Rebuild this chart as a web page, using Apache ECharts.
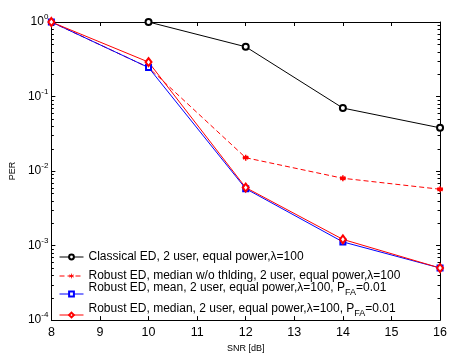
<!DOCTYPE html>
<html><head><meta charset="utf-8">
<script src="https://cdn.jsdelivr.net/npm/echarts@6/dist/echarts.min.js"></script>
<style>html,body{margin:0;padding:0;background:#fff}#c{width:450px;height:358px}</style>
</head><body><div id="c"></div>
<script>
// ---- data ----
const snr = [8, 10, 12, 14, 16];
const snrClassical = [10, 12, 14, 16];
const perClassical = [1.0, 0.465, 0.070, 0.038];
const perMedianNoThr = [1.0, 0.245, 0.0151, 0.0080, 0.0057];
const perMean = [1.0, 0.245, 0.0058, 0.00112, 0.00050];
const perMedian = [1.0, 0.29, 0.0060, 0.00121, 0.00050];
const seriesNames = [
  'Classical ED, 2 user, equal power,λ=100',
  'Robust ED, median w/o thlding, 2 user, equal power,λ=100',
  'Robust ED, mean, 2 user, equal power,λ=100, P_FA=0.01',
  'Robust ED, median, 2 user, equal power,λ=100, P_FA=0.01'
];
const xMin = 8, xMax = 16, xStep = 1;
const yMin = 1e-4, yMax = 1;
const minorMultipliers = [2, 3, 4, 5, 6, 7, 8, 9];
const decades = [1e-4, 1e-3, 1e-2, 1e-1];

const FONT = '"Liberation Sans", Arial, Helvetica, sans-serif';
const LFS = 12;
const minorTickValues = [];
decades.forEach(d => minorMultipliers.forEach(m => minorTickValues.push([xMin, m * d])));

const zip = (xs, ys) => xs.map((x, i) => [x, ys[i]]);
const asterisk = 'path://M0,-10L0,10M-8.66,-5L8.66,5M-8.66,5L8.66,-5M-10,0L10,0';

const chart = echarts.init(document.getElementById('c'), null, {renderer: 'canvas'});

function legendFmt(name) {
  if (name.indexOf('P_FA') >= 0) {
    const parts = name.split('P_FA');
    return '{a|' + parts[0] + 'P}{s|FA}{a|' + parts[1] + '}';
  }
  return name;
}
const legendRich = {
  a: {fontSize: LFS, fontFamily: FONT, color: '#000'},
  s: {fontSize: 9, padding: [9, 0, 0, 0], fontFamily: FONT, color: '#000'}
};
const legendTops = [251, 270, 282, 303];
const legends = seriesNames.map((n, i) => ({
  data: [n],
  left: 59,
  top: legendTops[i],
  padding: 0,
  itemWidth: 24,
  itemHeight: 6,
  itemGap: 0,
  selectedMode: false,
  formatter: legendFmt,
  lineStyle: {width: 1},
  itemStyle: {borderWidth: 0.8},
  textStyle: {fontSize: LFS, fontFamily: FONT, color: '#000', rich: legendRich,
    padding: n.indexOf('P_FA') >= 0 ? [0, 0, 12, 0] : 0}
}));

const axisCommon = {
  axisLine: {show: true, lineStyle: {color: '#000', width: 1}},
  splitLine: {show: false}
};

const option = {
  animation: false,
  backgroundColor: '#fff',
  textStyle: {fontFamily: FONT},
  grid: {left: 51, right: 9, top: 22, bottom: 28},
  legend: legends,
  xAxis: [
    Object.assign({
      type: 'value', min: xMin, max: xMax, interval: xStep, position: 'bottom',
      name: 'SNR [dB]', nameLocation: 'middle', nameGap: 20,
      nameTextStyle: {fontSize: 9, color: '#000', fontFamily: FONT},
      axisTick: {inside: true, length: 4, lineStyle: {color: '#000'}},
      axisLabel: {fontSize: 12.5, color: '#000', margin: 6, fontFamily: FONT}
    }, axisCommon),
    Object.assign({
      type: 'value', min: xMin, max: xMax, interval: xStep, position: 'top',
      axisTick: {inside: true, length: 4, lineStyle: {color: '#000'}},
      axisLabel: {show: false}
    }, axisCommon)
  ],
  yAxis: [
    Object.assign({
      type: 'log', logBase: 10, min: yMin, max: yMax, position: 'left',
      name: 'PER', nameLocation: 'middle', nameGap: 30,
      nameTextStyle: {fontSize: 9, color: '#000', fontFamily: FONT},
      axisTick: {inside: true, length: 4, lineStyle: {color: '#000'}},
      axisLabel: {
        margin: 3, color: '#000',
        formatter: v => '{b|10}{e|' + Math.round(Math.log10(v)) + '}',
        rich: {
          b: {fontSize: 12, fontFamily: FONT, color: '#000'},
          e: {fontSize: 8, fontFamily: FONT, color: '#000', padding: [0, 0, 10, 0]}
        }
      }
    }, axisCommon),
    Object.assign({
      type: 'log', logBase: 10, min: yMin, max: yMax, position: 'right',
      axisTick: {inside: true, length: 4, lineStyle: {color: '#000'}},
      axisLabel: {show: false}
    }, axisCommon)
  ],
  series: [
    {
      type: 'custom', name: 'minorTicks', xAxisIndex: 0, yAxisIndex: 0, silent: true,
      data: minorTickValues, clip: false,
      renderItem: (params, api) => {
        const v = api.value(1);
        const pl = api.coord([xMin, v]);
        const pr = api.coord([xMax, v]);
        const st = {stroke: '#000', lineWidth: 1};
        return {type: 'group', children: [
          {type: 'line', shape: {x1: pl[0], y1: Math.round(pl[1]) + 0.5, x2: pl[0] + 2.5, y2: Math.round(pl[1]) + 0.5}, style: st},
          {type: 'line', shape: {x1: pr[0] - 2.5, y1: Math.round(pr[1]) + 0.5, x2: pr[0], y2: Math.round(pr[1]) + 0.5}, style: st}
        ]};
      }
    },
    {
      name: seriesNames[0], type: 'line', data: zip(snrClassical, perClassical),
      symbol: 'emptyCircle', symbolSize: 6,
      lineStyle: {color: '#000', width: 1}, itemStyle: {color: '#000', borderWidth: 0.8}
    },
    {
      name: seriesNames[1], type: 'line', data: zip(snr, perMedianNoThr),
      symbol: asterisk, symbolSize: 6,
      lineStyle: {color: '#ff0000', width: 1, type: [5, 3]},
      itemStyle: {color: '#ff0000', borderColor: '#ff0000', borderWidth: 1.5}
    },
    {
      name: seriesNames[2], type: 'line', data: zip(snr, perMean),
      symbol: 'emptyRect', symbolSize: 5,
      lineStyle: {color: '#0000ff', width: 1}, itemStyle: {color: '#0000ff', borderWidth: 0.8}
    },
    {
      name: seriesNames[3], type: 'line', data: zip(snr, perMedian),
      symbol: 'emptyDiamond', symbolSize: [6, 8],
      lineStyle: {color: '#ff0000', width: 1}, itemStyle: {color: '#ff0000', borderColor: '#ff0000', borderWidth: 0.8}
    }
  ]
};
chart.setOption(option);
</script>
</body></html>
